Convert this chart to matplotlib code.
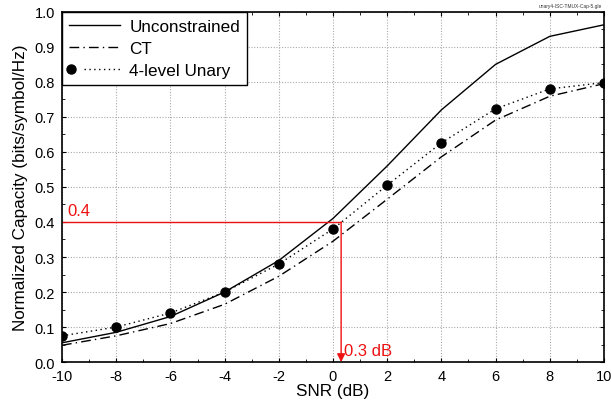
import matplotlib
matplotlib.use('Agg')
import matplotlib.pyplot as plt
from matplotlib.lines import Line2D
from matplotlib.legend_handler import HandlerLine2D
from matplotlib.ticker import MultipleLocator

plt.rcParams['font.family'] = ['Liberation Sans', 'DejaVu Sans']
plt.rcParams['axes.unicode_minus'] = False

# --- DATA ---
snr_db = [-10, -8, -6, -4, -2, 0, 2, 4, 6, 8, 10]
cap_unconstrained = [0.055, 0.085, 0.13, 0.20, 0.29, 0.41, 0.56, 0.72, 0.85, 0.93, 0.963]
cap_ct = [0.048, 0.075, 0.11, 0.165, 0.245, 0.345, 0.465, 0.586, 0.691, 0.759, 0.795]
cap_unary = [0.075, 0.10, 0.14, 0.20, 0.28, 0.38, 0.505, 0.626, 0.723, 0.78, 0.798]

target_cap = 0.4
target_snr = 0.3
target_label = '0.4'
gap_label = '0.3 dB'
file_tag = 'unary4-ISC-TMUX-Cap-5.gle'
# ----------------

CT_DASH = [7, 3, 1, 3]
DOT_STYLE = (0, (1, 2.5))


class DotThenLine(HandlerLine2D):
    # dot at the left end, then the dotted line, like the original legend
    def create_artists(self, legend, orig_handle, xdescent, ydescent,
                       width, height, fontsize, trans):
        y = height / 2 - ydescent
        x0 = -xdescent
        line = Line2D([x0 + 0.3 * width, x0 + width], [y, y],
                      color='black', lw=1.0, ls=DOT_STYLE)
        dot = Line2D([x0 + 0.04 * width], [y], ls='none', marker='o',
                     color='black', ms=6.5)
        line.set_transform(trans)
        dot.set_transform(trans)
        return [line, dot]


fig = plt.figure(figsize=(6.11, 4.14), dpi=100)
ax = fig.add_axes([0.1015, 0.123, 0.887, 0.846])

ax.plot(snr_db, cap_unconstrained, color='black', lw=1.0)
ax.plot(snr_db, cap_ct, color='black', lw=1.0, dashes=CT_DASH)
ax.plot(snr_db, cap_unary, color='black', lw=1.0, ls=DOT_STYLE)
ax.plot(snr_db, cap_unary, 'o', color='black', ms=6.5, zorder=5)

# red marker for the 0.4 bits/symbol/Hz crossing
red = '#ee1111'
ax.plot([snr_db[0], target_snr], [target_cap, target_cap], color=red, lw=1.0)
ax.annotate('', xy=(target_snr, 0.0), xytext=(target_snr, target_cap),
            arrowprops=dict(arrowstyle='-|>', color=red, lw=1.0,
                            mutation_scale=12, shrinkA=0, shrinkB=0))
ax.text(snr_db[0] + 0.2, target_cap + 0.01, target_label, color=red, fontsize=12,
        va='bottom', ha='left')
ax.text(target_snr + 0.12, 0.012, gap_label, color=red, fontsize=12,
        va='bottom', ha='left')

ax.set_xlim(-10, 10)
ax.set_ylim(0, 1)
ax.xaxis.set_major_locator(MultipleLocator(2))
ax.xaxis.set_minor_locator(MultipleLocator(1))
ax.yaxis.set_minor_locator(MultipleLocator(0.05))
ax.set_yticks([i / 10 for i in range(11)])
ax.set_yticklabels([f'{i / 10:.1f}' for i in range(11)])
ax.tick_params(which='both', direction='in', top=True, right=True, labelsize=10.5,
               pad=5)
ax.tick_params(which='major', length=3)
ax.tick_params(which='minor', length=2)
ax.grid(True, which='major', color='#aaaaaa', ls=(0, (1, 1.5)), lw=0.8)
for s in ax.spines.values():
    s.set_linewidth(1.2)

ax.set_xlabel('SNR (dB)', fontsize=12.3, labelpad=0)
ax.set_ylabel('Normalized Capacity (bits/symbol/Hz)', fontsize=12.3, labelpad=5)

handles = [
    Line2D([], [], color='black', lw=1.0),
    Line2D([], [], color='black', lw=1.0, dashes=CT_DASH),
    Line2D([], [], color='black', lw=1.0, ls=DOT_STYLE),
]
leg = ax.legend(handles, ['Unconstrained', 'CT', '4-level Unary'], loc='upper left',
                fontsize=12.3, fancybox=False, framealpha=1, edgecolor='black',
                borderaxespad=0, handlelength=3.0, labelspacing=0.42,
                borderpad=0.4, handletextpad=0.55,
                handler_map={handles[2]: DotThenLine()})
leg.get_frame().set_linewidth(1.0)

fig.text(0.985, 0.99, file_tag, fontsize=3.5, ha='right', va='top', color='#333333')

fig.savefig('out.png', dpi=100)
